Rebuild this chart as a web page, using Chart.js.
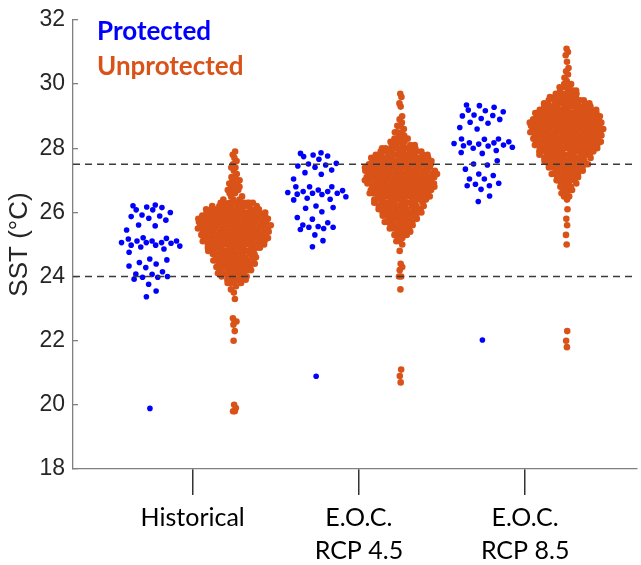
<!DOCTYPE html>
<html>
<head>
<meta charset="utf-8">
<script src="https://cdn.jsdelivr.net/npm/chart.js@4.4.1/dist/chart.umd.min.js"></script>
<style>
  html, body { margin: 0; padding: 0; background: #fff; overflow: hidden; }
  canvas { display: block; }
</style>
</head>
<body>
<canvas id="grafico" width="641" height="565"></canvas>
<script>
// periodos no eixo x e grupos de sitios
const periodos = ["Historical", ["E.O.C.", "RCP 4.5"], ["E.O.C.", "RCP 8.5"]];
const grupos = ["Protected", "Unprotected"];
const limiares = [27.5, 24];

const protHist = [26.21, 26.23, 26.15, 26.17, 26.08, 26.08, 26.0, 25.87, 25.92, 25.82, 25.89, 25.76,
  25.45, 25.61, 25.58, 25.21, 25.11, 25.19, 25.06, 24.95, 24.92, 25.11, 24.98, 24.86, 25.11, 24.98,
  24.76, 25.06, 25.17, 25.06, 25.04, 24.55, 24.52, 24.33, 24.39, 24.44, 24.28, 24.15, 24.08, 24.0,
  24.07, 23.98, 23.92, 23.98, 23.76, 23.55, 23.37, 19.89];
const protRcp45 = [27.84, 27.86, 27.76, 27.79, 27.74, 27.66, 27.45, 27.51, 27.41, 27.53, 27.48, 27.32,
  27.04, 27.19, 27.24, 26.80, 26.65, 26.80, 26.62, 26.49, 26.44, 26.68, 26.57, 26.39, 26.70, 26.56,
  26.41, 26.60, 26.80, 26.65, 26.60, 26.20, 26.15, 25.84, 26.02, 26.13, 25.79, 25.68, 25.61, 25.54,
  25.56, 25.50, 25.47, 25.54, 25.30, 25.12, 24.93, 20.89];
const protRcp85 = [29.33, 29.35, 29.19, 29.02, 28.81, 29.28, 29.17, 29.14, 29.04, 29.01, 28.93, 28.90,
  28.60, 28.65, 28.78, 28.29, 28.17, 28.29, 28.13, 28.00, 27.93, 28.17, 28.07, 27.87, 27.84, 28.20,
  28.03, 28.28, 28.08, 28.10, 28.15, 27.61, 27.51, 27.20, 27.35, 27.48, 27.15, 27.04, 27.04, 26.83,
  26.91, 26.88, 26.83, 26.72, 26.51, 26.34, 22.02];

// sitios nao protegidos: [SST, quantidade de sitios] estimado pela largura do enxame
const unprotHist = [[19.8,2],[19.9,1],[20.0,1],[22.0,1],[22.3,1],[22.5,1],[22.6,2],[22.7,1],[23.3,1],
  [23.5,1],[23.6,1],[23.7,1],[23.8,4],[23.9,5],[24.0,6],[24.1,7],[24.2,7],[24.3,8],[24.4,8],[24.5,9],
  [24.6,9],[24.7,9],[24.8,10],[24.9,11],[25.0,13],[25.1,13],[25.2,13],[25.3,14],[25.4,14],[25.5,15],
  [25.6,15],[25.7,15],[25.8,14],[25.9,14],[26.0,13],[26.1,12],[26.2,10],[26.3,9],[26.4,3],[26.5,2],
  [26.6,2],[26.7,3],[26.8,3],[26.9,3],[27.0,2],[27.1,2],[27.2,1],[27.3,1],[27.4,2],[27.5,1],[27.6,1],
  [27.7,1],[27.8,1],[27.9,1]];
const unprotRcp45 = [[20.7,1],[20.9,1],[21.1,1],[23.6,1],[24.0,2],[24.2,1],[24.3,1],[24.4,1],[24.8,1],
  [25.0,1],[25.1,2],[25.2,2],[25.3,3],[25.4,4],[25.5,5],[25.6,6],[25.7,6],[25.8,7],[25.9,8],[26.0,8],
  [26.1,9],[26.2,10],[26.3,10],[26.4,11],[26.5,12],[26.6,13],[26.7,13],[26.8,13],[26.9,14],[27.0,14],
  [27.1,15],[27.2,15],[27.3,15],[27.4,14],[27.5,13],[27.6,13],[27.7,12],[27.8,11],[27.9,10],[28.0,8],
  [28.1,5],[28.2,4],[28.3,3],[28.4,2],[28.5,3],[28.6,1],[28.7,2],[28.8,1],[28.9,1],[29.0,1],[29.3,1],
  [29.4,1],[29.6,1],[29.7,1]];
const unprotRcp85 = [[21.8,1],[22.0,1],[22.3,1],[25.0,1],[25.3,1],[25.6,1],[25.8,1],[26.1,1],[26.4,1],
  [26.5,2],[26.6,2],[26.7,3],[26.8,3],[26.9,4],[27.0,5],[27.1,5],[27.2,6],[27.3,7],[27.4,8],[27.5,9],
  [27.6,9],[27.7,10],[27.8,11],[27.9,12],[28.0,13],[28.1,13],[28.2,14],[28.3,14],[28.4,15],[28.5,15],
  [28.6,15],[28.7,15],[28.8,15],[28.9,15],[29.0,14],[29.1,13],[29.2,12],[29.3,11],[29.4,10],[29.5,8],
  [29.6,7],[29.7,5],[29.8,4],[29.9,3],[30.0,2],[30.1,1],[30.2,1],[30.3,1],[30.4,1],[30.5,1],[30.7,1],
  [30.9,1],[31.0,1],[31.1,1]];

const cores = ["#0000FF", "#D95319"];
const xMin = 0.28, xMax = 3.673;

// expande os pares [valor, n] em uma lista de valores
function expandir(pares) {
  return pares.flatMap(([v, n]) => Array(n).fill(v));
}

// espalha os pontos em x conforme a densidade (como o swarmchart)
function enxame(valores, centro, meiaLargura, banda) {
  const ord = [...valores].sort((a, b) => a - b);
  const dens = ord.map(v => ord.reduce((s, w) => s + Math.exp(-0.5 * ((v - w) / banda) ** 2), 0));
  const maxD = Math.max(...dens);
  return ord.map((v, i) => {
    const u = ((i + 1) * 0.6180339887) % 1;
    return { x: centro + (u - 0.5) * 2 * meiaLargura * dens[i] / maxD, y: v };
  });
}

const protegidos = [protHist, protRcp45, protRcp85]
  .flatMap((vals, i) => enxame(vals, i + 1 - 0.26, 0.195, 0.3));
const naoProtegidos = [unprotHist, unprotRcp45, unprotRcp85]
  .flatMap((pares, i) => enxame(expandir(pares), i + 1 + 0.25, 0.225, 0.15));

// texto da legenda dentro da area do grafico
const legendaTexto = {
  id: "legendaTexto",
  afterDraw(chart) {
    const ctx = chart.ctx;
    const area = chart.chartArea;
    ctx.save();
    ctx.font = "bold 26px Lato";
    ctx.textAlign = "left";
    ctx.textBaseline = "alphabetic";
    chart.data.datasets.filter(d => d.type === "scatter").forEach((d, i) => {
      ctx.fillStyle = d.backgroundColor;
      ctx.fillText(d.label, area.left + 24, area.top + 20 + i * 34.5);
    });
    ctx.restore();
  }
};

const linhas = limiares.map(t => ({
  type: "line",
  label: "limiar",
  data: [{ x: xMin, y: t }, { x: xMax, y: t }],
  borderColor: "#3a3a3a",
  borderWidth: 1.4,
  borderDash: [7, 5],
  pointRadius: 0,
  order: 0
}));

new Chart(document.getElementById("grafico"), {
  data: {
    datasets: [
      ...linhas,
      {
        type: "scatter",
        label: grupos[0],
        data: protegidos,
        backgroundColor: cores[0],
        pointRadius: 2.8,
        borderWidth: 0,
        order: 1
      },
      {
        type: "scatter",
        label: grupos[1],
        data: naoProtegidos,
        backgroundColor: cores[1],
        pointRadius: 3.3,
        borderWidth: 0,
        order: 1
      }
    ]
  },
  options: {
    responsive: false,
    animation: false,
    devicePixelRatio: 1,
    layout: { padding: { top: 20, left: 0, right: 3, bottom: 0 } },
    plugins: { legend: { display: false }, tooltip: { enabled: false } },
    scales: {
      x: {
        type: "linear",
        min: xMin,
        max: xMax,
        afterBuildTicks(s) { s.ticks = periodos.map((_, i) => ({ value: i + 1 })); },
        ticks: {
          autoSkip: false,
          maxRotation: 0,
          padding: 6,
          color: "#000",
          font: { family: "Lato", size: 25, lineHeight: 1.32 },
          callback: v => periodos[v - 1]
        },
        grid: { drawOnChartArea: false, tickLength: 26, color: "#333", lineWidth: 1.5 },
        border: { color: "#808080", width: 1.3 },
        afterFit(s) { s.height = 96; s.paddingLeft = 0; s.paddingRight = 0; }
      },
      y: {
        min: 18,
        max: 32,
        ticks: {
          stepSize: 2,
          padding: 13,
          color: "#262626",
          font: { family: "Liberation Sans", size: 23 }
        },
        grid: { drawOnChartArea: false, tickLength: -5, color: "#808080", lineWidth: 1.3 },
        border: { color: "#808080", width: 1.3 },
        title: {
          display: true,
          text: "SST (°C)",
          color: "#262626",
          font: { family: "Liberation Sans", size: 26 },
          padding: { top: 4, bottom: 0 }
        },
        afterFit(s) { s.width = 73; s.paddingTop = 0; s.paddingBottom = 0; }
      }
    }
  },
  plugins: [legendaTexto]
});
</script>
</body>
</html>
